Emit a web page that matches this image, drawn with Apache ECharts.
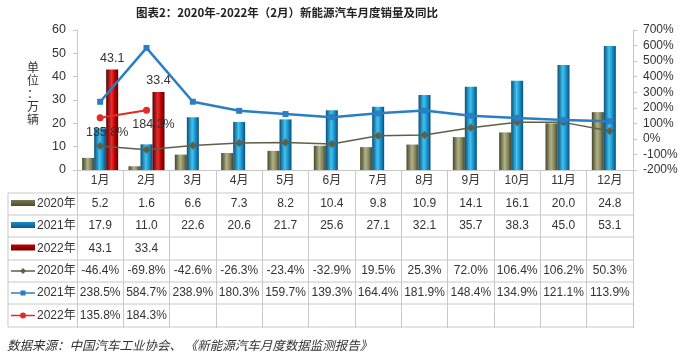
<!DOCTYPE html>
<html><head><meta charset="utf-8">
<script src="https://cdn.jsdelivr.net/npm/echarts@6/dist/echarts.min.js"></script>
<style>html,body{margin:0;padding:0;background:#fff}#c{width:683px;height:358px}</style>
</head><body><div id="c"></div>
<script>
const months = ['1月','2月','3月','4月','5月','6月','7月','8月','9月','10月','11月','12月'];
const sales2020 = [5.2,1.6,6.6,7.3,8.2,10.4,9.8,10.9,14.1,16.1,20.0,24.8];
const sales2021 = [17.9,11.0,22.6,20.6,21.7,25.6,27.1,32.1,35.7,38.3,45.0,53.1];
const sales2022 = [43.1,33.4,null,null,null,null,null,null,null,null,null,null];
const yoy2020 = [-46.4,-69.8,-42.6,-26.3,-23.4,-32.9,19.5,25.3,72.0,106.4,106.2,50.3];
const yoy2021 = [238.5,584.7,238.9,180.3,159.7,139.3,164.4,181.9,148.4,134.9,121.1,113.9];
const yoy2022 = [135.8,184.3,null,null,null,null,null,null,null,null,null,null];
const rowNames = ['2020年','2021年','2022年','2020年','2021年','2022年'];
const salesMin = 0, salesMax = 60, salesStep = 10;
const yoyMin = -200, yoyMax = 700, yoyStep = 100;

const FONT = '"Liberation Sans","Noto Sans CJK SC",sans-serif';
const TXT = '#333';
const LINE = '#c8c8c8';
const colOlive = '#7a7a52', colBlue = '#1a8cc8', colRed = '#c00000';
const colOliveLine = '#5f5f48', colBlueLine = '#2a7fc4', colRedLine = '#e42a2a';

function grad(dark, mid, light) {
  return new echarts.graphic.LinearGradient(0,0,1,0,[
    {offset:0,color:dark},{offset:0.45,color:light},{offset:0.7,color:mid},{offset:1,color:dark}]);
}
const fmtSales = v => (v == null ? '' : v.toFixed(1));
const fmtPct = v => (v == null ? '' : v.toFixed(1) + '%');

const axisY = 170;
const rowCenters = [204, 226, 248.5, 271, 293, 315.5];
const tableRows = [sales2020, sales2021, sales2022, yoy2020, yoy2021, yoy2022];
const rowFmt = [fmtSales, fmtSales, fmtSales, fmtPct, fmtPct, fmtPct];

const xAxes = [{
  type:'category', data: months, gridIndex:0, position:'bottom',
  axisLine:{lineStyle:{color:LINE}},
  axisTick:{show:true, length:158, lineStyle:{color:LINE}},
  axisLabel:{color:TXT, fontSize:12, fontFamily:FONT, margin:11, verticalAlign:'middle', interval:0}
}];
tableRows.forEach((row, r) => {
  xAxes.push({
    type:'category', data: months, gridIndex:0, position:'bottom',
    axisLine:{show:false}, axisTick:{show:false}, splitLine:{show:false},
    axisLabel:{color:TXT, fontSize:12, fontFamily:FONT, margin: rowCenters[r]-axisY,
      verticalAlign:'middle', interval:0, formatter:(v, i) => rowFmt[r](row[i])}
  });
});

const lineYs = [193, 215, 237, 260, 282, 304, 327];
const graphics = [];
lineYs.forEach(y => graphics.push({type:'line', shape:{x1:8,y1:y,x2:633,y2:y}, style:{stroke:LINE, lineWidth:1}, silent:true}));
graphics.push({type:'line', shape:{x1:8,y1:193,x2:8,y2:327}, style:{stroke:LINE, lineWidth:1}});
const legendCols = [colOlive, colBlue, colRed];
const legendBarDark = ['#4a4a30','#0b5a86','#700000'];
for (let r = 0; r < 3; r++) {
  graphics.push({type:'rect', shape:{x:11,y:rowCenters[r]-4,width:24,height:6},
    style:{fill:new echarts.graphic.LinearGradient(0,0,0,1,[{offset:0,color:legendCols[r]},{offset:1,color:legendBarDark[r]}])}});
}
const lineCols = [colOliveLine, colBlueLine, colRedLine];
for (let r = 0; r < 3; r++) {
  const y = rowCenters[r+3];
  graphics.push({type:'line', shape:{x1:11,y1:y,x2:35,y2:y}, style:{stroke:lineCols[r], lineWidth:1.5}});
  if (r === 0) graphics.push({type:'polygon', shape:{points:[[23,y-3],[26,y],[23,y+3],[20,y]]}, style:{fill:lineCols[r]}});
  else if (r === 1) graphics.push({type:'rect', shape:{x:20.5,y:y-2.5,width:5,height:5}, style:{fill:lineCols[r]}});
  else graphics.push({type:'circle', shape:{cx:23,cy:y,r:3}, style:{fill:lineCols[r]}});
}
rowNames.forEach((n, r) => graphics.push({type:'text', x:37, y:rowCenters[r],
  style:{text:n, fill:TXT, font:'12px '+FONT, verticalAlign:'middle', align:'left'}}));
graphics.push({type:'text', x:287, y:13, style:{text:'图表2：2020年-2022年（2月）新能源汽车月度销量及同比',
  fill:'#222', font:'bold 11.5px "Noto Sans CJK SC",sans-serif', align:'center', verticalAlign:'middle'}});
graphics.push({type:'text', x:33, y:93, style:{text:'单\n位\n：\n万\n辆', fill:TXT,
  font:'12px "Noto Sans CJK SC",sans-serif', align:'center', verticalAlign:'middle', lineHeight:13}});
graphics.push({type:'text', x:7, y:345, style:{text:'数据来源：中国汽车工业协会、 《新能源汽车月度数据监测报告》',
  fill:'#333', font:'italic 12.5px "Noto Sans CJK SC",sans-serif', align:'left', verticalAlign:'middle'}});

const barW = 12;
const option = {
  animation:false,
  backgroundColor:'#fff',
  grid:{left:77, right:50, top:30, bottom:188},
  xAxis: xAxes,
  yAxis:[
    {type:'value', min:salesMin, max:salesMax, interval:salesStep, splitLine:{show:false},
     axisLine:{show:true, lineStyle:{color:LINE}}, axisTick:{show:true, length:4, lineStyle:{color:LINE}},
     axisLabel:{color:TXT, fontSize:12.5, fontFamily:FONT, margin:11}},
    {type:'value', min:yoyMin, max:yoyMax, interval:yoyStep, splitLine:{show:false}, position:'right',
     axisLine:{show:true, lineStyle:{color:LINE}}, axisTick:{show:true, length:4, lineStyle:{color:LINE}},
     axisLabel:{color:TXT, fontSize:12, fontFamily:FONT, margin:10, formatter:'{value}%'}}
  ],
  series:[
    {type:'bar', name:'2020年', data:sales2020, barWidth:barW, barGap:'0%', xAxisIndex:0, yAxisIndex:0,
     itemStyle:{color:grad('#45452b','#8a8a60','#b2b288')}},
    {type:'bar', name:'2021年', data:sales2021, barWidth:barW, barGap:'0%', xAxisIndex:0, yAxisIndex:0,
     itemStyle:{color:grad('#0a4f78','#1a93cf','#40c4f0')}},
    {type:'bar', name:'2022年', data:sales2022, barWidth:barW, barGap:'0%', xAxisIndex:0, yAxisIndex:0,
     itemStyle:{color:grad('#5e0000','#c00000','#e83030')},
     label:{show:true, position:'top', color:TXT, fontSize:12.5, fontFamily:FONT, formatter:p=>fmtSales(p.value)}},
    {type:'line', name:'2020同比', data:yoy2020, xAxisIndex:0, yAxisIndex:1, symbol:'diamond', symbolSize:8,
     lineStyle:{color:colOliveLine, width:1.5}, itemStyle:{color:colOliveLine}, z:5},
    {type:'line', name:'2021同比', data:yoy2021, xAxisIndex:0, yAxisIndex:1, symbol:'rect', symbolSize:6,
     lineStyle:{color:colBlueLine, width:2.5}, itemStyle:{color:colBlueLine}, z:5},
    {type:'line', name:'2022同比', data:yoy2022, xAxisIndex:0, yAxisIndex:1, symbol:'circle', symbolSize:7,
     lineStyle:{color:colRedLine, width:2}, itemStyle:{color:colRedLine}, z:6, connectNulls:false,
     label:{show:true, position:'bottom', offset:[7,0], color:TXT, fontSize:12.5, fontFamily:FONT, formatter:p=>fmtPct(p.value)}}
  ],
  graphic: graphics
};
const chart = echarts.init(document.getElementById('c'), null, {renderer:'canvas'});
chart.setOption(option);
</script></body></html>
